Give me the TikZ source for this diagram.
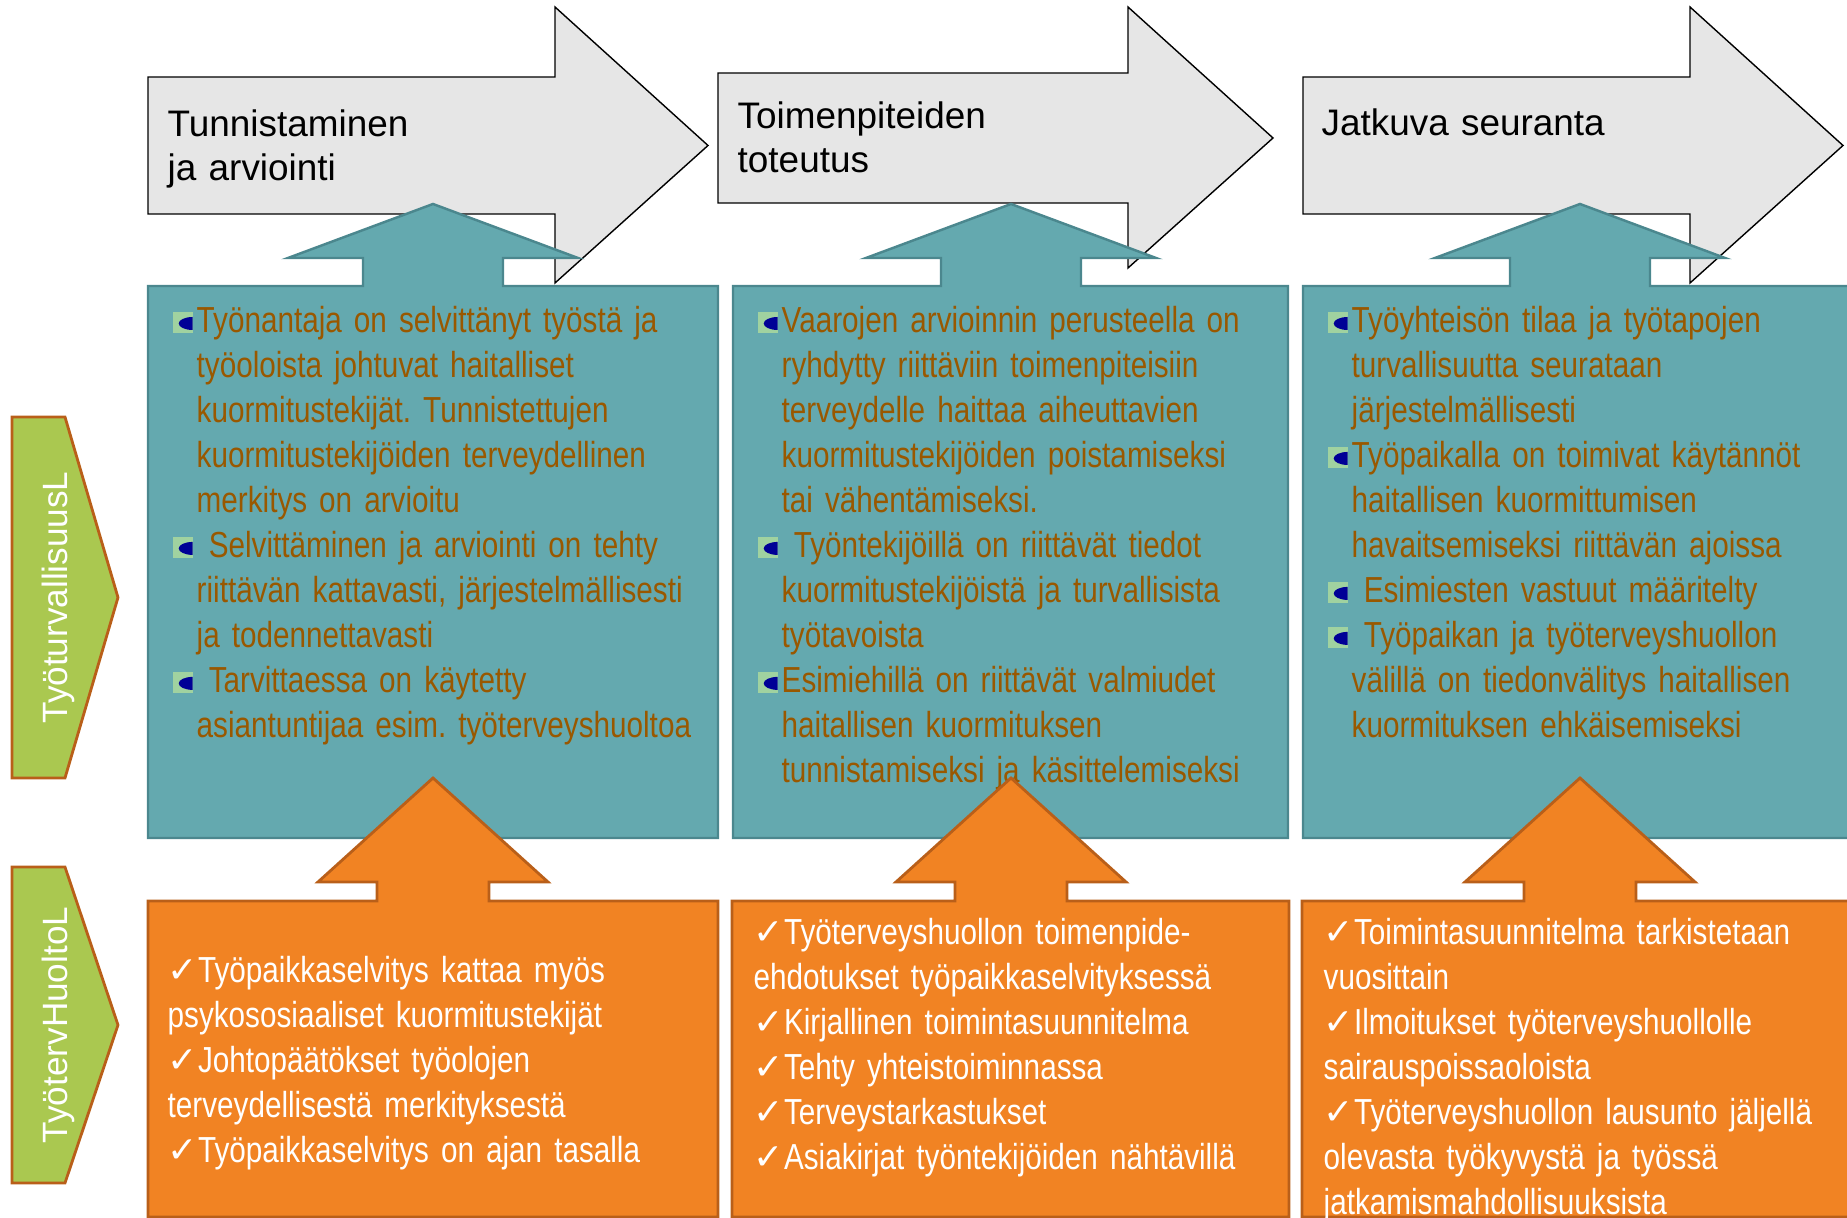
\documentclass[tikz,border=0pt]{standalone}
\usepackage{fontspec}
\setmainfont{Liberation Sans}
\newfontfamily\narrowfont[FakeStretch=0.82]{Liberation Sans}
\newfontfamily\symbfont{DejaVu Sans}
\frenchspacing
\definecolor{cgrey}{RGB}{230,230,230}
\definecolor{cteal}{RGB}{100,169,175}
\definecolor{ctealdark}{RGB}{75,135,142}
\definecolor{corange}{RGB}{241,131,35}
\definecolor{corangedark}{RGB}{185,95,25}
\definecolor{cgreen}{RGB}{170,200,80}
\definecolor{cbrown}{RGB}{153,88,0}
\definecolor{cbulgreen}{RGB}{160,210,160}
\definecolor{cbulblue}{RGB}{0,0,150}
\newcommand{\bul}{\tikz[baseline=0pt]{\fill[cbulgreen] (0,0) rectangle (0.20,0.21);
  \fill[cbulblue] (0.20,0.03) arc[start angle=-90, end angle=-270, x radius=0.14, y radius=0.065];}}
\newcommand{\kohta}[1]{\hangindent=0.24cm\hangafter=1\noindent\makebox[0.24cm][l]{\bul}#1\par}
\newcommand{\ok}{{\symbfont ✓}}

\begin{document}
\begin{tikzpicture}[
  nuoli/.style={fill=cgrey, draw=black, line width=0.4pt},
  sini/.style={fill=cteal, draw=ctealdark, line width=0.7pt},
  oranssi/.style={fill=corange, draw=corangedark, line width=0.8pt},
  laki/.style={fill=cgreen, draw=corangedark, line width=0.8pt},
  otsikko/.style={anchor=base west, inner sep=0pt, text width=5cm, align=left,
    font=\fontsize{10.5pt}{12.35pt}\selectfont},
  ruskea/.style={anchor=base west, inner sep=0pt, text width=5.5cm, align=left, text=cbrown,
    font=\narrowfont\fontsize{10.3pt}{12.8pt}\selectfont},
  valko/.style={anchor=base west, inner sep=0pt, text width=5.5cm, align=left, text=white,
    font=\narrowfont\fontsize{10.3pt}{12.8pt}\selectfont},
  pysty/.style={rotate=90, anchor=base, inner sep=0pt, text=white,
    font=\fontsize{10pt}{12pt}\selectfont}]
\useasboundingbox (0,0) rectangle (18.47,12.18);

% phases
\draw[nuoli] (1.48,10.04) -- (1.48,11.41) -- (5.55,11.41) -- (5.55,12.11) -- (7.08,10.725) -- (5.55,9.35) -- (5.55,10.04) -- cycle;
\draw[nuoli] (7.18,10.15) -- (7.18,11.45) -- (11.28,11.45) -- (11.28,12.11) -- (12.73,10.80) -- (11.28,9.50) -- (11.28,10.15) -- cycle;
\draw[nuoli] (13.03,10.04) -- (13.03,11.41) -- (16.90,11.41) -- (16.90,12.11) -- (18.43,10.725) -- (16.90,9.35) -- (16.90,10.04) -- cycle;
\node[otsikko] (vaihe1) at (1.67,10.81) {Tunnistaminen\\ja arviointi};
\node[otsikko] (vaihe2) at (7.37,10.89) {Toimenpiteiden\\toteutus};
\node[otsikko] (vaihe3) at (13.21,10.82) {Jatkuva seuranta};

% TyöturvallisuusL boxes
\foreach \L/\R/\c in {1.48/7.18/4.33, 7.33/12.88/10.11, 13.03/18.57/15.80}
  \draw[sini] (\L,3.80) -- (\L,9.32) -- (\c-0.70,9.32) -- (\c-0.70,9.60) -- (\c-1.45,9.60) -- (\c,10.14)
    -- (\c+1.45,9.60) -- (\c+0.70,9.60) -- (\c+0.70,9.32) -- (\R,9.32) -- (\R,3.80) -- cycle;
\node[ruskea] (tt1) at (1.72,8.85) {\kohta{Työnantaja on selvittänyt työstä ja\newline
  työoloista johtuvat haitalliset\newline kuormitustekijät. Tunnistettujen\newline
  kuormitustekijöiden terveydellinen\newline merkitys on arvioitu}%
  \kohta{\ Selvittäminen ja arviointi on tehty\newline riittävän kattavasti, järjestelmällisesti\newline
  ja todennettavasti}%
  \kohta{\ Tarvittaessa on käytetty\newline asiantuntijaa esim. työterveyshuoltoa}};
\node[ruskea] (tt2) at (7.57,8.85) {\kohta{Vaarojen arvioinnin perusteella on\newline
  ryhdytty riittäviin toimenpiteisiin\newline terveydelle haittaa aiheuttavien\newline
  kuormitustekijöiden poistamiseksi\newline tai vähentämiseksi.}%
  \kohta{\ Työntekijöillä on riittävät tiedot\newline kuormitustekijöistä ja turvallisista\newline
  työtavoista}%
  \kohta{Esimiehillä on riittävät valmiudet\newline haitallisen kuormituksen\newline
  tunnistamiseksi ja käsittelemiseksi}};
\node[ruskea] (tt3) at (13.27,8.85) {\kohta{Työyhteisön tilaa ja työtapojen\newline
  turvallisuutta seurataan\newline järjestelmällisesti}%
  \kohta{Työpaikalla on toimivat käytännöt\newline haitallisen kuormittumisen\newline
  havaitsemiseksi riittävän ajoissa}%
  \kohta{\ Esimiesten vastuut määritelty}%
  \kohta{\ Työpaikan ja työterveyshuollon\newline välillä on tiedonvälitys haitallisen\newline
  kuormituksen ehkäisemiseksi}};

% TyötervHuoltoL boxes
\foreach \L/\R/\c in {1.48/7.18/4.33, 7.32/12.89/10.11, 13.02/18.60/15.80}
  \draw[oranssi] (\L,0.01) -- (\L,3.17) -- (\c-0.56,3.17) -- (\c-0.56,3.36) -- (\c-1.15,3.36) -- (\c,4.40)
    -- (\c+1.15,3.36) -- (\c+0.56,3.36) -- (\c+0.56,3.17) -- (\R,3.17) -- (\R,0.01) -- cycle;
\node[valko] (oh1) at (1.67,2.35) {\ok Työpaikkaselvitys kattaa myös\\
  psykososiaaliset kuormitustekijät\\\ok Johtopäätökset työolojen\\
  terveydellisestä merkityksestä\\\ok Työpaikkaselvitys on ajan tasalla};
\node[valko] (oh2) at (7.53,2.73) {\ok Työterveyshuollon toimenpide-\\
  ehdotukset työpaikkaselvityksessä\\\ok Kirjallinen toimintasuunnitelma\\
  \ok Tehty yhteistoiminnassa\\\ok Terveystarkastukset\\
  \ok Asiakirjat työntekijöiden nähtävillä};
\node[valko] (oh3) at (13.23,2.73) {\ok Toimintasuunnitelma tarkistetaan\\
  vuosittain\\\ok Ilmoitukset työterveyshuollolle\\sairauspoissaoloista\\
  \ok Työterveyshuollon lausunto jäljellä\\olevasta työkyvystä ja työssä\\
  jatkamismahdollisuuksista};

% laws on the left
\foreach \ya/\yb/\yc/\nimi/\teksti in {4.40/8.01/6.205/tsl/TyöturvallisuusL, 0.35/3.51/1.93/thl/TyötervHuoltoL}
  {\draw[laki] (0.12,\ya) -- (0.12,\yb) -- (0.65,\yb) -- (1.18,\yc) -- (0.65,\ya) -- cycle;
   \node[pysty] (\nimi) at (0.68,\yc) {\teksti};}
\end{tikzpicture}
\end{document}
